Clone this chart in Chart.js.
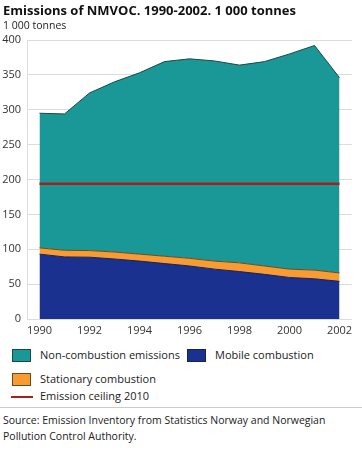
<!DOCTYPE html>
<html>
<head>
<meta charset="utf-8">
<script src="https://cdn.jsdelivr.net/npm/chart.js@4/dist/chart.umd.min.js"></script>
<style>
  html, body { margin:0; padding:0; background:#fff; }
  body { width:362px; height:455px; position:relative; overflow:hidden; font-family:"Open Sans", "Noto Sans", sans-serif; color:#222; }
  #title { position:absolute; left:3px; top:1px; font-size:13px; font-weight:bold; white-space:nowrap; color:#111; }
  #unit { position:absolute; left:3px; top:18px; font-size:10.5px; white-space:nowrap; color:#222; }
  #wrap { position:absolute; left:0; top:0; width:362px; height:345px; }
  .lg { position:absolute; font-size:11px; white-space:nowrap; line-height:14px; }
  .box { position:absolute; width:19px; height:13px; box-sizing:border-box; border:1px solid #555; }
  .ln { position:absolute; height:2px; }
  #sep { position:absolute; left:0; top:407px; width:362px; height:1px; background:#ccc; }
  #src { position:absolute; left:3px; top:412px; font-size:10.5px; line-height:16px; color:#222; }
</style>
</head>
<body>
<div id="wrap"><canvas id="c" width="362" height="345"></canvas></div>
<div id="title">Emissions of NMVOC. 1990-2002. 1 000 tonnes</div>
<div id="unit">1 000 tonnes</div>
<div id="legend"></div>
<div id="sep"></div>
<div id="src">Source: Emission Inventory from Statistics Norway and Norwegian<br>Pollution Control Authority.</div>
<script>
const years = [1990,1991,1992,1993,1994,1995,1996,1997,1998,1999,2000,2001,2002];
const mobile = [93,89,88.6,86,83,79.5,76,71.5,68,64,59.5,57.6,54];
const stationary = [9,9.5,9.5,10,10,10.5,11,11.5,12.5,12,12,12.5,12];
const nonCombustion = [193,195.5,226,244,260,279,286,287,283.5,293,308.5,322,280];
const ceiling2010 = [194,194,194,194,194,194,194,194,194,194,194,194,194];
const yTicks = [0,50,100,150,200,250,300,350,400];
const xTicks = [1990,1992,1994,1996,1998,2000,2002];

const pts = arr => arr.map((v,i)=>({x:years[i], y:v}));
const FONT = "'Open Sans', 'Noto Sans', sans-serif";

const datasets = [
  {label:'Emission ceiling 2010', data:pts(ceiling2010), borderColor:'#a3231c', backgroundColor:'#a3231c', borderWidth:2.5, fill:false, stack:'c', pointRadius:0},
  {label:'Mobile combustion', data:pts(mobile), backgroundColor:'#1b3190', borderColor:'#152255', borderWidth:1, fill:'origin', stack:'e', pointRadius:0},
  {label:'Stationary combustion', data:pts(stationary), backgroundColor:'#f89b32', borderColor:'#6a4a20', borderWidth:1, fill:'-1', stack:'e', pointRadius:0},
  {label:'Non-combustion emissions', data:pts(nonCombustion), backgroundColor:'#1a9797', borderColor:'#1d4848', borderWidth:1, fill:'-1', stack:'e', pointRadius:0}
];

new Chart(document.getElementById('c'), {
  type:'line',
  data:{datasets},
  options:{
    responsive:false, animation:false, events:[],
    layout:{padding:{top:40, right:10, left:0, bottom:0}},
    elements:{line:{tension:0}},
    plugins:{legend:{display:false}, tooltip:{enabled:false}, title:{display:false}},
    scales:{
      x:{type:'linear', min:1989.5, max:2002.5,
         afterBuildTicks: s => { s.ticks = xTicks.map(v=>({value:v})); },
         afterFit: s => { s.height = 26; },
         grid:{display:false, drawTicks:false},
         border:{display:false},
         ticks:{padding:5, color:'#333', font:{family:FONT, size:11}, maxRotation:0, autoSkip:false, callback:v=>String(v)}
      },
      y:{stacked:true, min:0, max:400,
         afterBuildTicks: s => { s.ticks = yTicks.map(v=>({value:v})); },
         afterFit: s => { s.width = 27; },
         grid:{color:'#dcdcdc', lineWidth:1, drawTicks:false},
         border:{display:true, color:'#dcdcdc'},
         ticks:{padding:6, color:'#333', font:{family:FONT, size:11}}
      }
    }
  }
});

// HTML legend from dataset definitions
const legendLayout = [
  {i:3, x:12, y:349, kind:'box'},
  {i:1, x:187, y:349, kind:'box'},
  {i:2, x:12, y:373, kind:'box'},
  {i:0, x:11, y:397, kind:'line'}
];
const lg = document.getElementById('legend');
legendLayout.forEach(it=>{
  const d = datasets[it.i];
  const m = document.createElement('div');
  if (it.kind==='box') {
    m.className='box'; m.style.left=it.x+'px'; m.style.top=it.y+'px'; m.style.background=d.backgroundColor;
    m.style.borderColor = d.borderColor;
  } else {
    m.className='ln'; m.style.left=it.x+'px'; m.style.top=(it.y-1)+'px'; m.style.width='22px'; m.style.background=d.borderColor;
  }
  lg.appendChild(m);
  const t = document.createElement('div');
  t.className='lg'; t.textContent=d.label;
  t.style.left=(it.kind==='box'? it.x+28 : 40)+'px';
  t.style.top=(it.kind==='box'? it.y-1 : it.y-8)+'px';
  lg.appendChild(t);
});
</script>
</body>
</html>
